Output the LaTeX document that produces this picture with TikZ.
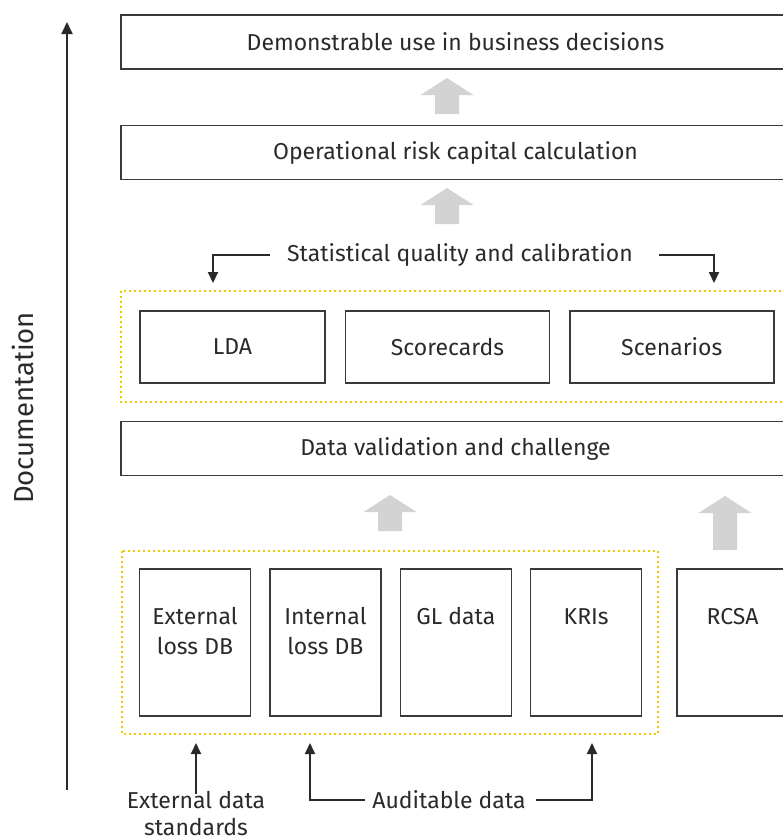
\documentclass[tikz,border=0pt]{standalone}
\usepackage{fontspec}
\setmainfont{Fira Sans}
\usetikzlibrary{arrows.meta, positioning, calc}
\definecolor{boxline}{HTML}{3A3A3A}
\definecolor{txtcol}{HTML}{2A2A2A}
\definecolor{dotyellow}{HTML}{F3C700}
\definecolor{blockgray}{HTML}{D3D3D3}

\begin{document}
\begin{tikzpicture}[
    x=1pt, y=-1pt,
    every node/.style={font=\fontsize{23}{27}\selectfont, text=txtcol, inner sep=0pt},
    wide/.style={rectangle, draw=boxline, line width=1.4pt,
                 minimum width=669pt, minimum height=54pt},
    mid/.style={rectangle, draw=boxline, line width=1.4pt,
                minimum width=204pt, minimum height=72pt},
    tall/.style={rectangle, draw=boxline, line width=1.4pt,
                 minimum width=111pt, minimum height=147pt},
    grp/.style={draw=dotyellow, line width=2pt, dash pattern=on 2pt off 3pt},
    arr/.style={-{Triangle[length=11pt, width=10pt]}, line width=2pt, draw=txtcol},
    uparr/.pic={\fill[blockgray] (0,0) -- (26.5,17) -- (12,17) -- (12,#1) -- (-12,#1)
                 -- (-12,17) -- (-26.5,17) -- cycle;}
]
    \useasboundingbox (0,0) rectangle (783,839);
    \clip (0,0) rectangle (783,839);

    % documentation axis
    \coordinate (docbot) at (67,790);
    \coordinate (doctop) at (67,22);
    \draw[arr, -{Triangle[length=12pt, width=11pt]}] (docbot) -- (doctop);
    \node[rotate=90, font=\fontsize{27.5}{32}\selectfont] (doc) at (23,408) {Documentation};

    \node[wide] (use)  at (455.5,42)    {Demonstrable use in business decisions};
    \node[wide] (calc) at (455.5,152.5) {Operational risk capital calculation};
    \pic at (447,78)  {uparr=36};
    \pic at (447,188) {uparr=36};

    \node (stat) at (460,255) {Statistical quality and calibration};
    \draw[grp] (121,291) rectangle (800,402);
    \node[mid, minimum width=185pt] (lda) at (232.5,347) {LDA};
    \node[mid, right=19pt of lda]   (score) {Scorecards};
    \node[mid, right=19pt of score] (scen)  {Scenarios};
    \coordinate (ldain)  at (213,283);
    \coordinate (scenin) at (714,283);
    \draw[arr] ([xshift=-17pt]stat.west) -| (ldain);
    \draw[arr] ([xshift=26pt]stat.east) -| (scenin);

    \node[wide] (valid) at (455.5,448.5) {Data validation and challenge};
    \pic at (390,495) {uparr=36};
    \pic at (725,496) {uparr=54};

    \draw[grp] (122,551) rectangle (658,734);
    \node[tall] (ext)  at (195,642.5) {};
    \node[tall, right=18pt of ext] (int)  {};
    \node[tall, right=18pt of int] (gl)   {};
    \node[tall, right=18pt of gl]  (kri)  {};
    \node[tall] (rcsa) at (732.5,642.5) {};
    \node[align=center, font=\fontsize{23}{30}\selectfont] (extl) at ($(ext.north)+(0,63)$) {External\\loss DB};
    \node[align=center, font=\fontsize{23}{30}\selectfont] (intl) at ($(int.north)+(0,63)$) {Internal\\loss DB};
    \node (gll)   at ($(gl.north)+(0,48)$)   {GL data};
    \node (kril)  at ($(kri.north)+(0,48)$)  {KRIs};
    \node (rcsal) at ($(rcsa.north)+(0,48)$) {RCSA};

    \node[align=center, font=\fontsize{23}{27}\selectfont] (std) at (196,814) {External data\\standards};
    \node (aud) at (449,800) {Auditable data};
    \coordinate (extin) at (196,743);
    \coordinate (intin) at (310,743);
    \coordinate (kriin) at (592,743);
    \draw[arr] ([yshift=-2pt]std.north) -- (extin);
    \draw[arr] ([xshift=-7pt]aud.west) -| (intin);
    \draw[arr] ([xshift=10pt]aud.east) -| (kriin);
\end{tikzpicture}
\end{document}
